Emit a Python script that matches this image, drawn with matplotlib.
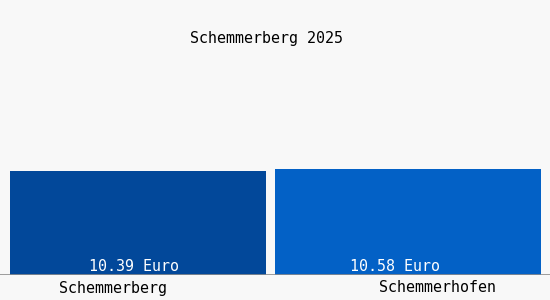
import matplotlib.pyplot as plt

# Data
places = ['Schemmerberg', 'Schemmerhofen']
prices = [10.39, 10.58]
colors = ['#02489a', '#0361c6']
title = 'Schemmerberg 2025'

fig = plt.figure(figsize=(5.5, 3.0), dpi=100)
fig.patch.set_facecolor('#f8f8f8')

# axes spans pixel x 0..550, y 10..275 (from top)
ax = fig.add_axes([0, 25 / 300, 1, 265 / 300])
ax.set_facecolor('#f8f8f8')
ax.set_xlim(0, 550)
ax.set_ylim(0, 10.58 * 265 / 106)

lefts = [10, 275]
widths = [256, 266]
ax.bar(lefts, prices, width=widths, align='edge', color=colors, zorder=2)

mono = 'DejaVu Sans Mono'
label_x = [134, 395]
for x, v in zip(label_x, prices):
    ax.text(x, 0.05, f'{v:.2f} Euro', color='white', ha='center', va='bottom',
            fontsize=10.8, family=mono, zorder=3)

ax.axhline(0, color='#8c8c8c', lw=1.2, zorder=3)

for spine in ax.spines.values():
    spine.set_visible(False)
ax.set_xticks([])
ax.set_yticks([])

# category labels below baseline
for x, name in zip([113, 438], places):
    fig.text(x / 550, 1 - 288 / 300, name, ha='center', va='center', fontsize=10.8, family=mono)

fig.text(266 / 550, 1 - 38 / 300, title, ha='center', va='center', fontsize=10.8, family=mono)

plt.savefig('out.png', dpi=100, facecolor=fig.get_facecolor())
